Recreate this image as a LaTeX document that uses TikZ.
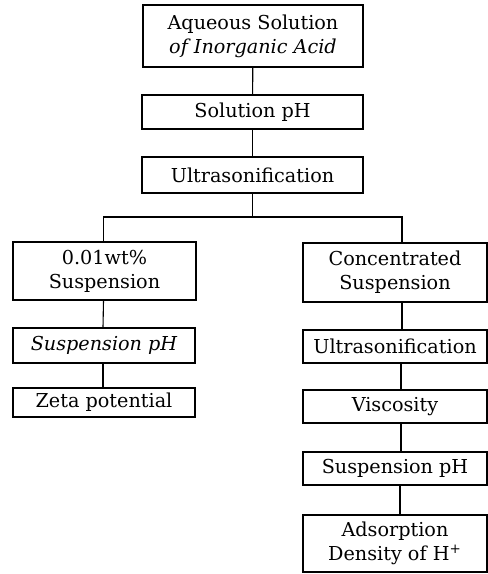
\documentclass[tikz,border=0pt]{standalone}
\usepackage{fontspec}
\setmainfont{DejaVu Serif}
\begin{document}
\begin{tikzpicture}[x=0.5pt,y=-0.5pt,
  box/.style={draw,line width=0.55pt,inner sep=0pt,align=center,
    font=\fontsize{9.6}{12}\selectfont},
  link/.style={line width=0.55pt}]
\useasboundingbox (0,0) rectangle (488,574);
% main column
\node[box,minimum width=110pt,minimum height=31pt] (b1) at (253,36)
  {Aqueous Solution\\\itshape of Inorganic Acid};
\node[box,minimum width=110.5pt,minimum height=17pt] (b2) at (252.5,112) {Solution pH};
\node[box,minimum width=110.5pt,minimum height=18pt] (b3) at (252.5,175) {Ultrasonification};
% left column
\node[box,minimum width=91.5pt,minimum height=29pt] (l1) at (104.5,271) {0.01wt\%\\Suspension};
\node[box,minimum width=91pt,minimum height=17.5pt] (l2) at (104,345.5) {\itshape Suspension pH};
\node[box,minimum width=91pt,minimum height=14.5pt] (l3) at (104,402.5) {Zeta potential};
% right column
\node[box,minimum width=92pt,minimum height=29.5pt] (r1) at (395,272.5) {Concentrated\\Suspension};
\node[box,minimum width=92pt,minimum height=16.5pt] (r2) at (395,346.5) {Ultrasonification};
\node[box,minimum width=92pt,minimum height=16.5pt] (r3) at (395,406.5) {Viscosity};
\node[box,minimum width=92pt,minimum height=16.5pt] (r4) at (395,468.5) {Suspension pH};
\node[box,minimum width=92pt,minimum height=28.5pt] (r5) at (395,543.5) {Adsorption\\Density of H\textsuperscript{+}};
% connectors
\draw[link] (b1) -- (b2);
\draw[link] (b2) -- (b3);
\coordinate (j) at (252.5,217);
\draw[link] (b3) -- (j);
\draw[link] ([xshift=-0.5pt]l1.north) |- (j) -| ([xshift=3.5pt]r1.north);
\draw[link] ([xshift=-0.5pt]l1.south) -- ([xshift=-0.5pt]l2.north);
\draw[link] ([xshift=-0.5pt]l2.south) -- ([xshift=-0.5pt]l3.north);
\draw[link] ([xshift=3.5pt]r1.south) -- ([xshift=3.5pt]r2.north);
\draw[link] ([xshift=3pt]r2.south) -- ([xshift=3pt]r3.north);
\draw[link] ([xshift=3pt]r3.south) -- ([xshift=3pt]r4.north);
\draw[link] ([xshift=2.5pt]r4.south) -- ([xshift=2.5pt]r5.north);
\end{tikzpicture}
\end{document}
